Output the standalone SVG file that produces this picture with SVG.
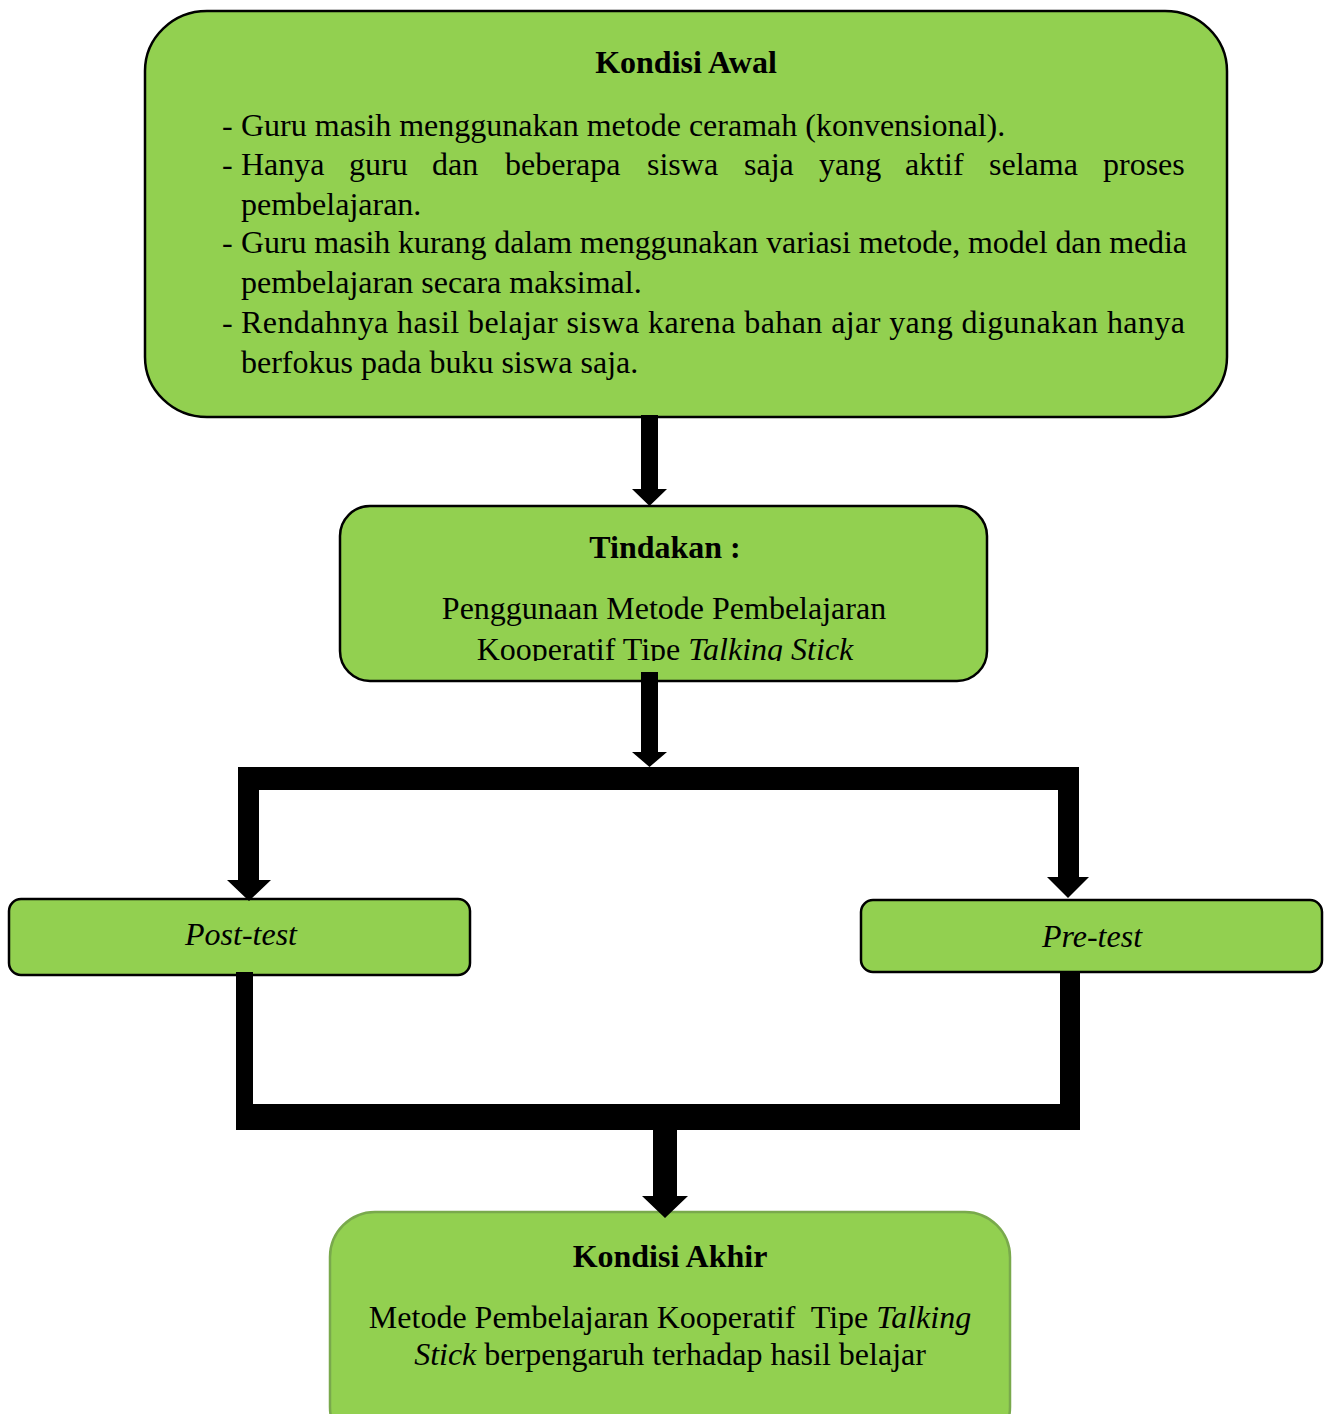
<svg xmlns="http://www.w3.org/2000/svg" width="1328" height="1414" viewBox="0 0 1328 1414">
<style>
.box{fill:#92d050;stroke:#000;stroke-width:2.5}
.boxg{fill:#92d050;stroke:#79a94c;stroke-width:2.5}
text{font-family:"Liberation Serif","Times New Roman",serif;font-size:32px;fill:#000}
.b{font-weight:bold}
.i{font-style:italic}
.c{text-anchor:middle}
.pre{white-space:pre}
.conn{fill:#000;stroke:none}
</style>
<defs>
<clipPath id="clipT"><rect x="340" y="506" width="647" height="155"/></clipPath>
</defs>
<rect width="1328" height="1414" fill="#fff"/>
<g id="kondisi-awal">
<rect class="box" x="145" y="11" width="1082" height="406" rx="62" ry="60"/>
<text class="b c" x="686" y="73">Kondisi Awal</text>
<text x="222" y="136">-</text>
<text x="241" y="136">Guru masih menggunakan metode ceramah (konvensional).</text>
<text x="222" y="175">-</text>
<text y="175"><tspan x="241">Hanya</tspan><tspan x="349">guru</tspan><tspan x="432">dan</tspan><tspan x="505">beberapa</tspan><tspan x="647">siswa</tspan><tspan x="744">saja</tspan><tspan x="819">yang</tspan><tspan x="905">aktif</tspan><tspan x="989">selama</tspan><tspan x="1103">proses</tspan></text>
<text x="241" y="215">pembelajaran.</text>
<text x="222" y="253">-</text>
<text x="241" y="253" textLength="946" lengthAdjust="spacing">Guru masih kurang dalam menggunakan variasi metode, model dan media</text>
<text x="241" y="293">pembelajaran secara maksimal.</text>
<text x="222" y="333">-</text>
<text x="241" y="333" textLength="944" lengthAdjust="spacing">Rendahnya hasil belajar siswa karena bahan ajar yang digunakan hanya</text>
<text x="241" y="373">berfokus pada buku siswa saja.</text>
</g>
<g id="tindakan">
<rect class="box" x="340" y="506" width="647" height="175" rx="30"/>
<text class="b c" x="665" y="558">Tindakan :</text>
<g clip-path="url(#clipT)">
<text class="c" x="664" y="619">Penggunaan Metode Pembelajaran</text>
<text class="c" x="665" y="660">Kooperatif Tipe <tspan class="i">Talking Stick</tspan></text>
</g>
</g>
<g id="post-test">
<rect class="box" x="9" y="899" width="461" height="76" rx="12"/>
<text class="i c" x="241" y="945">Post-test</text>
</g>
<g id="pre-test">
<rect class="box" x="861" y="900" width="461" height="72" rx="12"/>
<text class="i c" x="1092" y="947">Pre-test</text>
</g>
<g id="kondisi-akhir">
<rect class="boxg" x="330" y="1212" width="680" height="240" rx="45"/>
<text class="b c" x="670" y="1267">Kondisi Akhir</text>
<text class="c pre" x="670" y="1328">Metode Pembelajaran Kooperatif  Tipe <tspan class="i">Talking</tspan></text>
<text class="c" x="670" y="1365"><tspan class="i">Stick</tspan> berpengaruh terhadap hasil belajar</text>
</g>
<g id="connectors">
<path class="conn" d="M641,415 H658 V489 H667 L649.5,506 L632,489 H641 Z"/>
<path class="conn" d="M641,672 H658 V752 H667 L649.5,767 L632,752 H641 Z"/>
<path class="conn" d="M238,767 H1079 V877 H1089 L1068,898 L1047,877 H1058 V790 H259 V880 H271 L249,901 L227,880 H238 Z"/>
<path class="conn" d="M236,972 H253 V1104 H1060 V972 H1080 V1130 H677 V1196 H688 L665,1218 L642,1196 H653 V1130 H236 Z"/>
</g>
</svg>
